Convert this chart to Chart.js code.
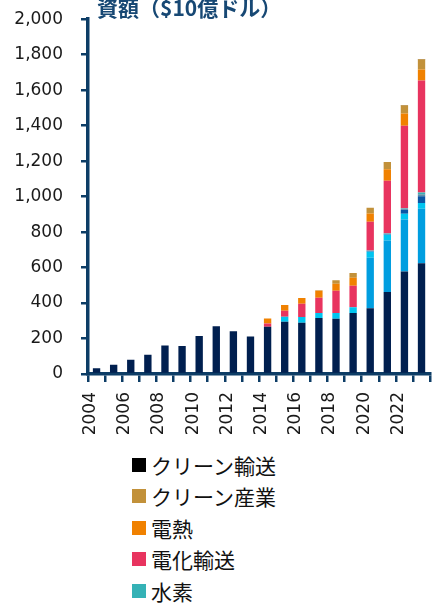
<!DOCTYPE html>
<html lang="ja">
<head>
  <meta charset="UTF-8" />
  <title>投資額</title>
  <style>
    body {
      margin: 0;
      padding: 0;
      background: white;
      overflow: hidden;
      font-family: "DejaVu Sans", "Noto Sans CJK JP", sans-serif;
    }

    .chart-box {
      position: relative;
      width: 452px;
      height: 445px;
      overflow: visible;
    }

    #investChart {
      position: absolute;
      left: 0;
      top: -9px;
    }

    .legend {
      position: absolute;
      left: 132px;
      top: 449px;
      margin: 0;
      padding: 0;
      list-style: none;
      font-family: "Noto Sans CJK JP", sans-serif;
      font-size: 21px;
      color: #111;
    }

    .legend li {
      display: flex;
      align-items: center;
      height: 31.5px;
      white-space: nowrap;
    }

    .legend .swatch {
      width: 14px;
      height: 14px;
      margin-right: 5px;
      flex-shrink: 0;
    }
  </style>
</head>
<body>

<div class="chart-box">
  <canvas id="investChart" width="452" height="454"></canvas>
</div>
<ul id="legend" class="legend"></ul>

<script src="https://cdn.jsdelivr.net/npm/chart.js"></script>
<script>
const years = ['2004','2005','2006','2007','2008','2009','2010','2011','2012','2013',
               '2014','2015','2016','2017','2018','2019','2020','2021','2022','2023'];

// 下から順に積み上げ（$10億）
const renewables   = [32, 52, 81, 109, 160, 158, 214, 269, 241, 212, 266, 295, 289, 315, 311, 344, 370, 462, 578, 625];
const grids        = [0, 0, 0, 0, 0, 0, 0, 0, 0, 0, 0, 0, 0, 0, 0, 0, 285, 291, 293, 307];
const storage      = [0, 0, 0, 0, 0, 0, 0, 0, 0, 0, 0, 28, 32, 29, 33, 32, 34, 32, 33, 32];
const nuclear      = [0, 0, 0, 0, 0, 0, 0, 0, 0, 0, 0, 0, 0, 0, 0, 0, 3, 3, 22, 38];
const ccs          = [0, 0, 0, 0, 0, 0, 0, 0, 0, 0, 0, 0, 0, 0, 0, 0, 3, 4, 5, 11];
const hydrogen     = [0, 0, 0, 0, 0, 0, 0, 0, 0, 0, 0, 0, 0, 0, 0, 0, 1, 2, 3, 10];
const eTransport   = [0, 0, 0, 0, 0, 0, 0, 0, 0, 0, 19, 34, 75, 86, 125, 121, 162, 296, 465, 632];
const eHeat        = [0, 0, 0, 0, 0, 0, 0, 0, 0, 0, 28, 32, 32, 39, 40, 46, 47, 64, 70, 62];
const cleanIndustry= [0, 0, 0, 0, 0, 0, 0, 0, 0, 0, 0, 0, 0, 3, 19, 26, 32, 41, 46, 57];
const cleanShipping= [0, 0, 0, 0, 0, 0, 0, 0, 0, 0, 0, 0, 0, 0, 0, 0, 0, 0.5, 1, 1];

const yTicks = [0, 200, 400, 600, 800, 1000, 1200, 1400, 1600, 1800, 2000];

const axisColor = '#0d3d66';
const titleText = '資額（$10億ドル）';

const series = [
  { label: '再生可能エネルギー', data: renewables,    color: '#001f4f' },
  { label: '送電網',             data: grids,         color: '#009ee0' },
  { label: 'エネルギー貯蔵',     data: storage,       color: '#00c4f0' },
  { label: '原子力',             data: nuclear,       color: '#0a55a5' },
  { label: 'CCS',                data: ccs,           color: '#5b8fa8' },
  { label: '水素',               data: hydrogen,      color: '#35b2b6' },
  { label: '電化輸送',           data: eTransport,    color: '#e8345f' },
  { label: '電熱',               data: eHeat,         color: '#f08100' },
  { label: 'クリーン産業',       data: cleanIndustry, color: '#c2913a' },
  { label: 'クリーン輸送',       data: cleanShipping, color: '#000000' }
];

const titlePlugin = {
  id: 'cornerTitle',
  afterDraw(chart) {
    const ctx = chart.ctx;
    ctx.save();
    ctx.font = 'bold 21px "Noto Sans CJK JP"';
    ctx.fillStyle = '#174874';
    ctx.textAlign = 'left';
    ctx.textBaseline = 'middle';
    ctx.fillText(titleText, chart.chartArea.left + 9, chart.chartArea.top - 11);
    ctx.restore();
  }
};

const ctx = document.getElementById('investChart').getContext('2d');
const chart = new Chart(ctx, {
  type: 'bar',
  data: {
    labels: years,
    datasets: series.map(s => ({
      label: s.label,
      data: s.data,
      backgroundColor: s.color,
      borderWidth: 0,
      barPercentage: 0.43,
      categoryPercentage: 1
    }))
  },
  options: {
    responsive: false,
    animation: false,
    devicePixelRatio: 1,
    layout: { padding: { top: 10, right: 3, left: 0, bottom: 0 } },
    plugins: {
      legend: { display: false },
      tooltip: { enabled: false }
    },
    scales: {
      x: {
        stacked: true,
        grid: {
          offset: true,
          drawOnChartArea: false,
          drawTicks: true,
          tickLength: 8,
          color: axisColor,
          lineWidth: 2.5
        },
        border: { display: true, color: axisColor, width: 3.5 },
        ticks: {
          autoSkip: false,
          minRotation: 90,
          maxRotation: 90,
          labelOffset: -6,
          padding: 10,
          color: '#1a1a1a',
          font: { family: 'DejaVu Sans', size: 17 },
          callback: (v, i) => (i % 2 === 0 ? years[i] : '')
        },
        afterFit: scale => { scale.height = 71; }
      },
      y: {
        stacked: true,
        min: 0,
        max: 2000,
        afterBuildTicks: scale => { scale.ticks = yTicks.map(v => ({ value: v })); },
        grid: {
          drawOnChartArea: false,
          drawTicks: true,
          tickLength: 7,
          color: axisColor,
          lineWidth: 2.5
        },
        border: { display: true, color: axisColor, width: 3.5 },
        ticks: {
          padding: 18,
          color: '#1a1a1a',
          font: { family: 'DejaVu Sans', size: 17 },
          callback: v => v.toLocaleString('en-US')
        },
        afterFit: scale => { scale.width = 88; }
      }
    }
  },
  plugins: [titlePlugin]
});

// 凡例（上の系列から順）
const legendEl = document.getElementById('legend');
chart.data.datasets.slice().reverse().forEach(ds => {
  const li = document.createElement('li');
  const sw = document.createElement('span');
  sw.className = 'swatch';
  sw.style.background = ds.backgroundColor;
  const tx = document.createElement('span');
  tx.textContent = ds.label;
  li.appendChild(sw);
  li.appendChild(tx);
  legendEl.appendChild(li);
});
</script>
</body>
</html>
